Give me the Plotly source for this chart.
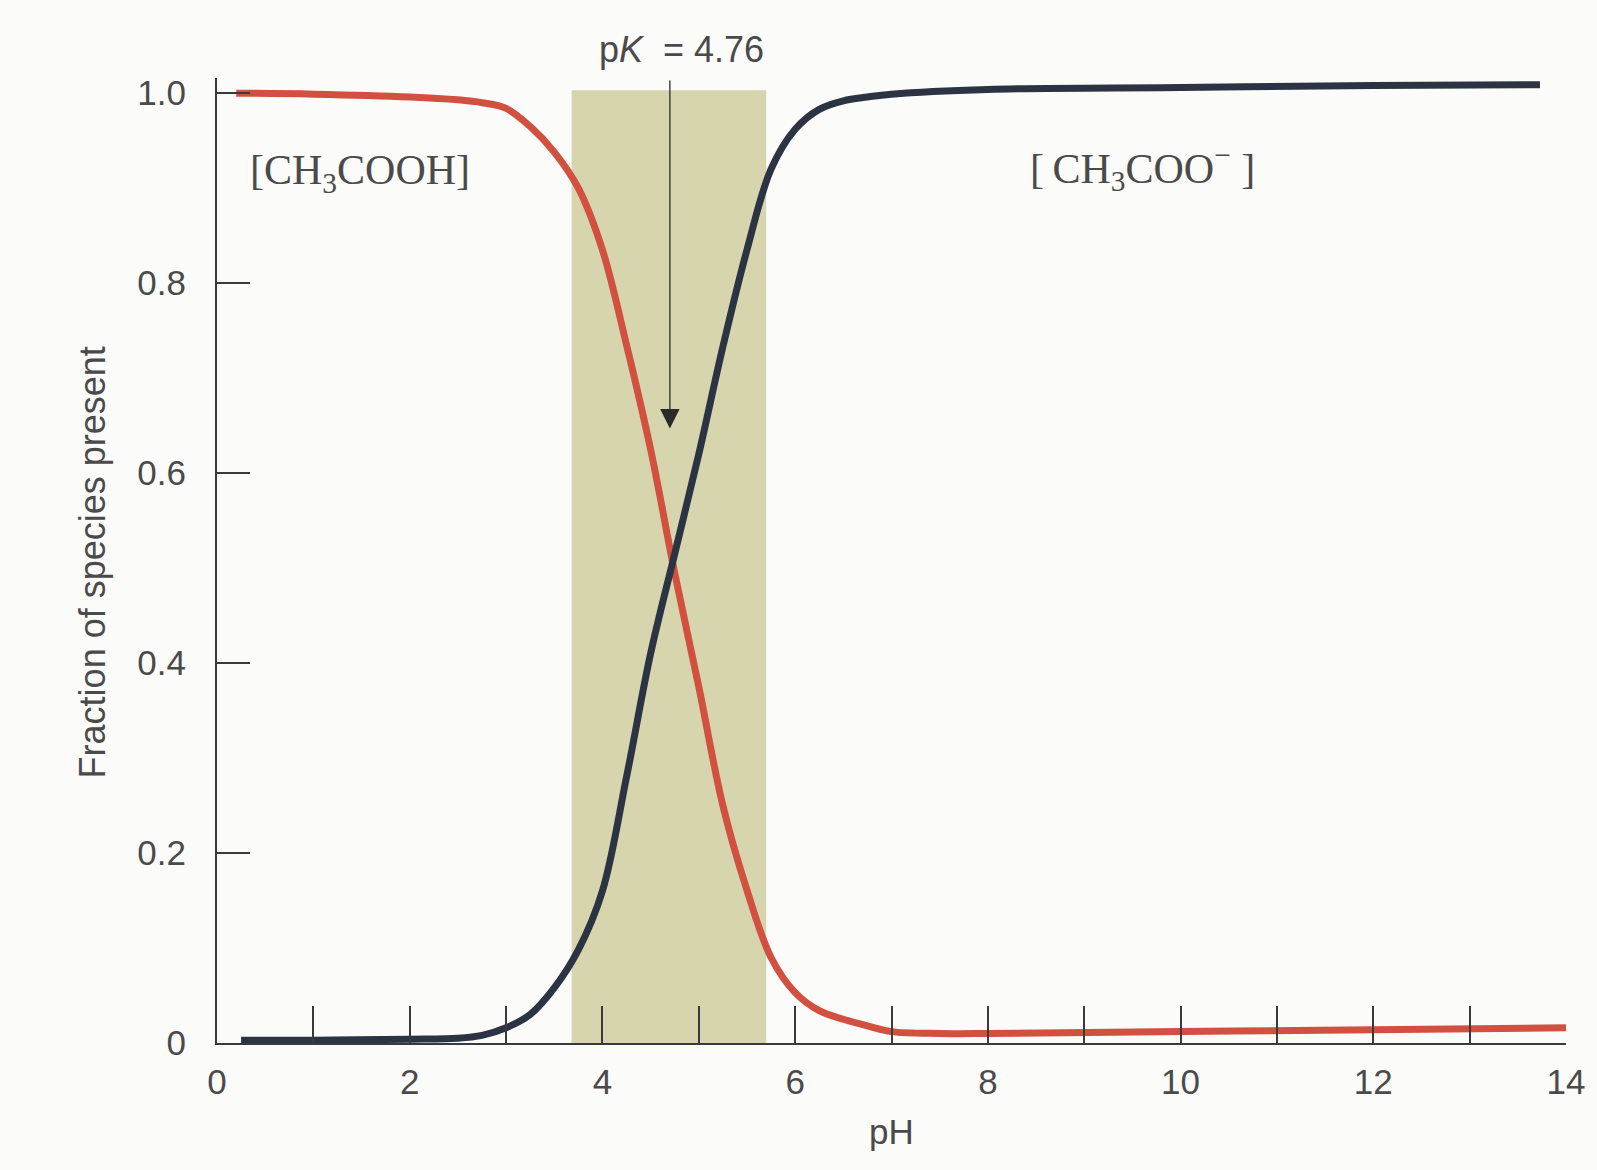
import plotly.graph_objects as go

# ---- data ----
acid_ph = [0.2, 1.0, 2.0, 2.5, 2.75, 3.0, 3.25, 3.5, 3.75, 4.0, 4.25, 4.5, 4.75, 5.0, 5.25,
           5.5, 5.75, 6.0, 6.25, 6.5, 6.75, 7.0, 7.5, 8.0, 10.0, 12.0, 14.0]
acid_frac = [1.0, 0.999, 0.996, 0.993, 0.990, 0.984, 0.965, 0.938, 0.900, 0.835, 0.735, 0.625,
             0.495, 0.375, 0.250, 0.161, 0.090, 0.053, 0.034, 0.025, 0.018, 0.012, 0.010,
             0.010, 0.012, 0.014, 0.016]

base_ph = [0.25, 1.0, 2.0, 2.5, 2.75, 3.0, 3.25, 3.5, 3.75, 4.0, 4.25, 4.5, 4.75, 5.0, 5.25,
           5.5, 5.75, 6.0, 6.25, 6.5, 6.75, 7.0, 8.0, 10.0, 12.0, 13.73]
base_frac = [0.003, 0.003, 0.004, 0.005, 0.008, 0.016, 0.030, 0.058, 0.098, 0.160, 0.280,
             0.410, 0.515, 0.620, 0.733, 0.835, 0.920, 0.962, 0.983, 0.992, 0.996, 0.999,
             1.004, 1.006, 1.008, 1.009]

x_tickvals = [0, 2, 4, 6, 8, 10, 12, 14]
x_ticktext = ["0", "2", "4", "6", "8", "10", "12", "14"]
y_tickvals = [0, 0.2, 0.4, 0.6, 0.8, 1.0]
y_ticktext = ["0", "0.2", "0.4", "0.6", "0.8", "1.0"]

pK_value = 4.70          # position of the pK marker on the drawn axis
buffer_low, buffer_high = 3.68, 5.70
arrow_tip, arrow_top = 0.647, 1.015

acid_label = "[CH<sub>3</sub>COOH]"
base_label = "[\u2009CH<sub>3</sub>COO<sup>\u2212</sup> ]"
pk_label = "p<i>K</i>\u00a0\u00a0= 4.76"

RED = "#d2503f"
NAVY = "#2c3444"
TXT = "#4a4a4a"
AX = "#3a3a3a"
SANS = "Liberation Sans, Arial, sans-serif"
SERIF = "Liberation Serif, Times New Roman, serif"

fig = go.Figure()

fig.add_shape(type="rect", xref="x", yref="y", x0=buffer_low, x1=buffer_high, y0=0, y1=1.003,
              fillcolor="#d6d5ae", line_width=0, layer="below")

fig.add_trace(go.Scatter(x=acid_ph, y=acid_frac, mode="lines",
                         line=dict(color=RED, width=7, shape="spline", smoothing=1.0),
                         showlegend=False, hoverinfo="skip"))
fig.add_trace(go.Scatter(x=base_ph, y=base_frac, mode="lines",
                         line=dict(color=NAVY, width=7, shape="spline", smoothing=1.0),
                         showlegend=False, hoverinfo="skip"))

# arrow for pK
fig.add_annotation(x=pK_value, y=arrow_tip, ax=pK_value, ay=arrow_top, xref="x", yref="y",
                   axref="x", ayref="y", text="", showarrow=True, arrowhead=2, arrowsize=3,
                   arrowwidth=1.3, arrowcolor="#2a2a2a")
fig.add_annotation(x=4.82, y=1.030, xref="x", yref="paper", text=pk_label, showarrow=False,
                   font=dict(family=SANS, size=36, color=TXT), xanchor="center", yanchor="middle")

fig.add_annotation(x=1.48, y=0.916, xref="x", yref="y", text=acid_label, showarrow=False,
                   font=dict(family=SERIF, size=42, color=TXT), xanchor="center", yanchor="middle")
fig.add_annotation(x=9.61, y=0.921, xref="x", yref="y", text=base_label, showarrow=False,
                   font=dict(family=SERIF, size=42, color=TXT), xanchor="center", yanchor="middle")

# axis titles
fig.add_annotation(x=-0.0927, y=0.498, xref="paper", yref="paper", text="Fraction of species present",
                   textangle=-90, showarrow=False, font=dict(family=SANS, size=36, color=TXT),
                   xanchor="center", yanchor="middle")
fig.add_annotation(x=7.0, y=-0.0912, xref="x", yref="paper", text="pH", showarrow=False,
                   font=dict(family=SANS, size=35, color=TXT), xanchor="center", yanchor="middle")

fig.update_xaxes(range=[0, 14], tickvals=x_tickvals, ticktext=x_ticktext, ticks="inside",
                 ticklen=37, tickwidth=2, tickcolor=AX, showline=True, linecolor=AX, linewidth=2,
                 showgrid=False, zeroline=False, tickfont=dict(family=SANS, size=35, color=TXT),
                 ticklabelstandoff=7,
                 minor=dict(ticks="inside", ticklen=37, tickwidth=2, tickcolor=AX,
                            tick0=0, dtick=1, showgrid=False))
fig.update_yaxes(range=[0, 1.016], tickvals=y_tickvals, ticktext=y_ticktext, ticks="inside",
                 ticklen=33, tickwidth=2, tickcolor=AX, showline=True, linecolor=AX, linewidth=2,
                 showgrid=False, zeroline=False, tickfont=dict(family=SANS, size=35, color=TXT),
                 ticklabelstandoff=22)

fig.update_layout(width=1597, height=1170, margin=dict(l=217, r=31, t=78, b=127),
                  paper_bgcolor="#fbfbfa", plot_bgcolor="#fbfbfa", showlegend=False)

fig.write_html("out.html")
